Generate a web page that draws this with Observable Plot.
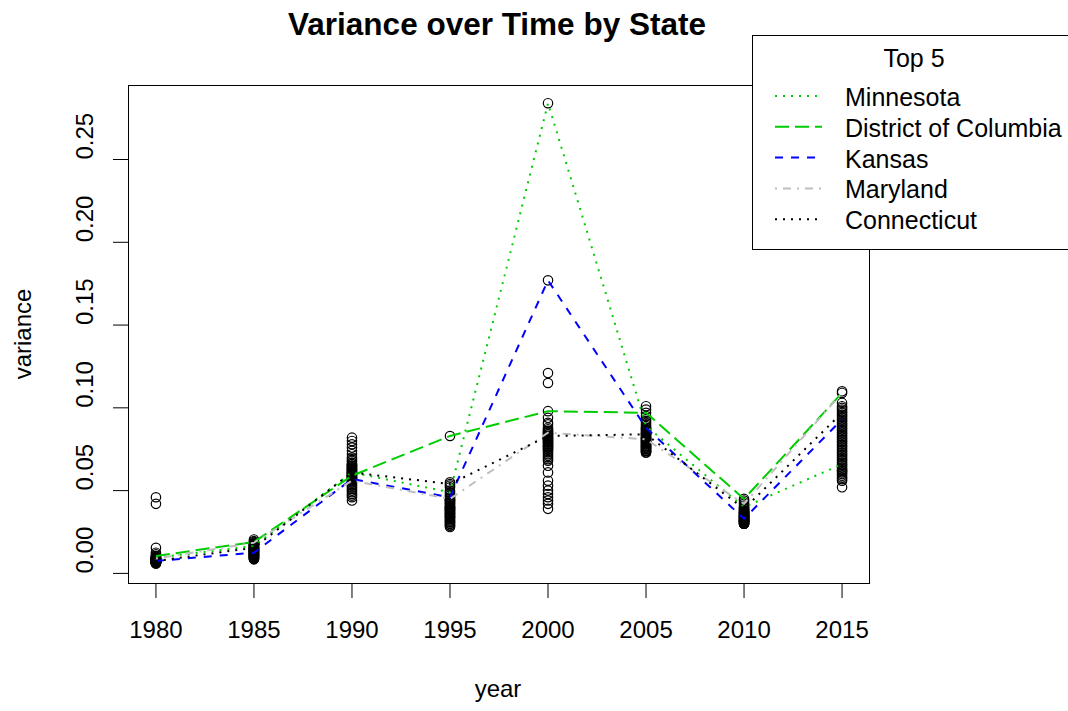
<!DOCTYPE html>
<html>
<head>
<meta charset="utf-8">
<script src="https://cdn.jsdelivr.net/npm/d3@7"></script>
<script src="https://cdn.jsdelivr.net/npm/@observablehq/plot@0.6"></script>
<style>
  html, body { margin: 0; padding: 0; background: #fff; }
  svg { display: block; }
</style>
</head>
<body>
<div id="chart"></div>
<script>
// ---- data ----
const years = [1980, 1985, 1990, 1995, 2000, 2005, 2010, 2015];
const yTicks = [0, 0.05, 0.10, 0.15, 0.20, 0.25];

const seriesNames = ["Minnesota", "District of Columbia", "Kansas", "Maryland", "Connecticut"];
const minnesota   = [0.0095, 0.0165, 0.061, 0.049, 0.284, 0.089, 0.040, 0.066];
const dc          = [0.0105, 0.019, 0.059, 0.083, 0.098, 0.097, 0.045, 0.109];
const kansas      = [0.0075, 0.0125, 0.057, 0.046, 0.177, 0.088, 0.033, 0.093];
const maryland    = [0.009, 0.0185, 0.056, 0.045, 0.085, 0.081, 0.042, 0.109];
const connecticut = [0.0075, 0.0155, 0.061, 0.054, 0.083, 0.084, 0.039, 0.097];

// all states' variance per year
const v1980 = [0.046, 0.042, 0.0155, 0.0125, 0.0115, 0.0105, 0.0102, 0.0099, 0.0097, 0.0095, 0.0093, 0.0091, 0.009, 0.0089, 0.0088, 0.0087, 0.0086, 0.0085, 0.0084, 0.0083, 0.0082, 0.0081, 0.008, 0.0079, 0.0078, 0.0077, 0.0076, 0.0075, 0.0074, 0.0073, 0.0072, 0.0071, 0.007, 0.0069, 0.0068, 0.0067, 0.0066, 0.0065, 0.0064, 0.0063, 0.0062, 0.0061, 0.006, 0.0068, 0.0072, 0.0078, 0.0083, 0.0088, 0.0092, 0.0071, 0.0066];
const v1985 = [0.0205, 0.0195, 0.019, 0.0185, 0.018, 0.0178, 0.0175, 0.0172, 0.017, 0.0168, 0.0165, 0.0163, 0.016, 0.0158, 0.0155, 0.0153, 0.015, 0.0148, 0.0146, 0.0144, 0.0142, 0.014, 0.0138, 0.0136, 0.0134, 0.0132, 0.013, 0.0128, 0.0126, 0.0124, 0.0122, 0.012, 0.0118, 0.0116, 0.0114, 0.0112, 0.011, 0.0108, 0.0106, 0.0104, 0.0102, 0.01, 0.0098, 0.0095, 0.0092, 0.009, 0.0088, 0.0085, 0.0135, 0.0145, 0.0155];
const v1990 = [0.082, 0.080, 0.078, 0.076, 0.074, 0.072, 0.070, 0.069, 0.068, 0.067, 0.066, 0.066, 0.065, 0.065, 0.064, 0.064, 0.063, 0.063, 0.062, 0.062, 0.062, 0.061, 0.061, 0.061, 0.060, 0.060, 0.060, 0.059, 0.059, 0.059, 0.058, 0.058, 0.058, 0.057, 0.057, 0.057, 0.056, 0.056, 0.055, 0.054, 0.053, 0.052, 0.051, 0.050, 0.049, 0.048, 0.047, 0.046, 0.044, 0.063, 0.065];
const v1995 = [0.083, 0.055, 0.054, 0.053, 0.052, 0.050, 0.049, 0.048, 0.047, 0.046, 0.046, 0.045, 0.045, 0.044, 0.044, 0.043, 0.043, 0.042, 0.042, 0.041, 0.041, 0.040, 0.040, 0.039, 0.039, 0.038, 0.038, 0.037, 0.037, 0.036, 0.036, 0.035, 0.035, 0.034, 0.034, 0.033, 0.033, 0.032, 0.032, 0.031, 0.031, 0.030, 0.030, 0.029, 0.029, 0.028, 0.040, 0.038, 0.036, 0.034, 0.044];
const v2000 = [0.284, 0.177, 0.121, 0.115, 0.098, 0.094, 0.091, 0.090, 0.088, 0.087, 0.086, 0.086, 0.085, 0.085, 0.084, 0.084, 0.083, 0.083, 0.082, 0.082, 0.081, 0.081, 0.080, 0.080, 0.079, 0.079, 0.078, 0.078, 0.077, 0.077, 0.076, 0.076, 0.075, 0.075, 0.074, 0.073, 0.072, 0.071, 0.070, 0.069, 0.068, 0.065, 0.061, 0.056, 0.053, 0.050, 0.048, 0.046, 0.044, 0.042, 0.039];
const v2005 = [0.101, 0.099, 0.097, 0.095, 0.093, 0.091, 0.090, 0.089, 0.088, 0.088, 0.087, 0.087, 0.086, 0.086, 0.085, 0.085, 0.084, 0.084, 0.084, 0.083, 0.083, 0.082, 0.082, 0.082, 0.081, 0.081, 0.081, 0.080, 0.080, 0.080, 0.079, 0.079, 0.079, 0.078, 0.078, 0.078, 0.077, 0.077, 0.077, 0.076, 0.076, 0.076, 0.075, 0.075, 0.075, 0.074, 0.074, 0.074, 0.073, 0.073, 0.092];
const v2010 = [0.045, 0.044, 0.042, 0.041, 0.040, 0.039, 0.039, 0.038, 0.038, 0.037, 0.037, 0.037, 0.036, 0.036, 0.036, 0.035, 0.035, 0.035, 0.035, 0.034, 0.034, 0.034, 0.034, 0.033, 0.033, 0.033, 0.033, 0.033, 0.032, 0.032, 0.032, 0.032, 0.032, 0.031, 0.031, 0.031, 0.031, 0.031, 0.030, 0.030, 0.030, 0.030, 0.036, 0.035, 0.034, 0.033, 0.032, 0.038, 0.037, 0.040, 0.043];
const v2015 = [0.110, 0.109, 0.103, 0.101, 0.100, 0.099, 0.098, 0.097, 0.096, 0.095, 0.094, 0.093, 0.092, 0.091, 0.090, 0.089, 0.088, 0.087, 0.086, 0.085, 0.084, 0.083, 0.082, 0.081, 0.080, 0.079, 0.078, 0.077, 0.076, 0.075, 0.074, 0.073, 0.072, 0.071, 0.070, 0.069, 0.068, 0.067, 0.066, 0.065, 0.064, 0.063, 0.062, 0.061, 0.060, 0.059, 0.058, 0.057, 0.056, 0.052, 0.062];

// ---- build tables ----
const allValues = [v1980, v1985, v1990, v1995, v2000, v2005, v2010, v2015];
const points = allValues.flatMap((vals, i) => vals.map(v => ({year: years[i], v})));

const seriesValues = [minnesota, dc, kansas, maryland, connecticut];
const seriesStyle = [
  {color: "#00CD00", dash: "2,6"},
  {color: "#00CD00", dash: "14,6"},
  {color: "#0000FF", dash: "8,8"},
  {color: "#BEBEBE", dash: "2,6,8,6"},
  {color: "#000000", dash: "2,6"}
];
const seriesData = seriesValues.map((vals, s) => years.map((y, i) => ({year: y, v: vals[i], name: seriesNames[s]})));

const font = "'Liberation Sans', Arial, sans-serif";

const svg = Plot.plot({
  width: 1068,
  height: 711,
  marginLeft: 128,
  marginRight: 199,
  marginTop: 85,
  marginBottom: 128,
  style: {fontFamily: font, fontSize: "24px", background: "white", color: "black"},
  x: {domain: [1978.6, 2016.4]},
  y: {domain: [-0.0061, 0.2947]},
  marks: [
    Plot.frame({stroke: "black", strokeWidth: 1}),
    Plot.axisX({ticks: years, tickSize: 15, tickPadding: 22, tickFormat: d => String(d), label: null, fontSize: 24}),
    Plot.axisY({ticks: yTicks, tickSize: 15, tickFormat: () => "", label: null}),
    Plot.text(yTicks, {y: d => d, text: d => d.toFixed(2), frameAnchor: "left", dx: -36, rotate: -90, lineAnchor: "bottom", fontSize: 24, fill: "black"}),
    Plot.dot(points, {x: "year", y: "v", r: 4.7, stroke: "black", strokeWidth: 1.2, fill: "none"}),
    ...seriesData.map((d, s) => Plot.line(d, {
      x: "year", y: "v",
      stroke: seriesStyle[s].color,
      strokeWidth: 2,
      strokeDasharray: seriesStyle[s].dash,
      strokeLinecap: "butt",
      strokeLinejoin: "round"
    }))
  ]
});

const g = d3.select(svg);

// title
g.append("text")
  .attr("x", 497).attr("y", 35)
  .attr("text-anchor", "middle")
  .attr("font-family", font).attr("font-weight", "bold").attr("font-size", 31.5)
  .attr("fill", "black")
  .text("Variance over Time by State");

// axis titles
g.append("text")
  .attr("x", 498).attr("y", 697)
  .attr("text-anchor", "middle")
  .attr("font-family", font).attr("font-size", 24).attr("fill", "black")
  .text("year");
g.append("text")
  .attr("transform", "translate(31,334) rotate(-90)")
  .attr("text-anchor", "middle")
  .attr("font-family", font).attr("font-size", 24).attr("fill", "black")
  .text("variance");

// legend
const lg = g.append("g");
lg.append("rect")
  .attr("x", 752.5).attr("y", 35.5).attr("width", 340).attr("height", 214)
  .attr("fill", "white").attr("stroke", "black").attr("stroke-width", 1);
lg.append("text")
  .attr("x", 914).attr("y", 67)
  .attr("text-anchor", "middle")
  .attr("font-family", font).attr("font-size", 25).attr("fill", "black")
  .text("Top 5");
seriesNames.forEach((name, i) => {
  const cy = 96 + i * 30.8;
  lg.append("line")
    .attr("x1", 775).attr("x2", 822).attr("y1", cy).attr("y2", cy)
    .attr("stroke", seriesStyle[i].color).attr("stroke-width", 2)
    .attr("stroke-dasharray", seriesStyle[i].dash);
  lg.append("text")
    .attr("x", 845).attr("y", cy + 10)
    .attr("text-anchor", "start")
    .attr("font-family", font).attr("font-size", 25).attr("fill", "black")
    .text(name);
});

document.getElementById("chart").appendChild(svg);
</script>
</body>
</html>
